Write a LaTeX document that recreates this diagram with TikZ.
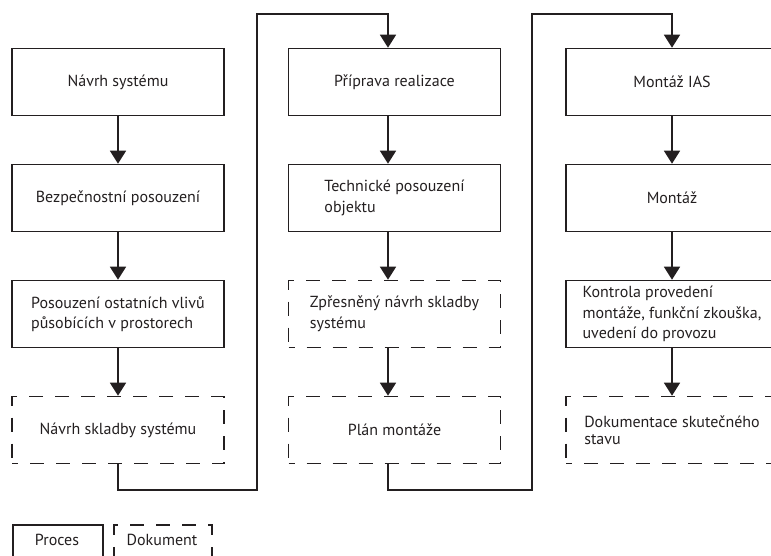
\documentclass[tikz,border=0pt]{standalone}
\usepackage{fontspec}
\setmainfont{PT Sans}
\usetikzlibrary{arrows.meta,calc}
\definecolor{ink}{HTML}{231F20}
\tikzset{
  box/.style={draw=ink, line width=1.6pt, minimum width=212pt, minimum height=67pt, inner sep=0pt, align=left, font=\fontsize{16}{20.5}\selectfont, text=ink},
  proc/.style={box},
  doc/.style={box, dash pattern=on 14pt off 12pt, dash phase=8pt},
  flow/.style={draw=ink, line width=1.6pt, -{Triangle[width=16pt,length=13pt]}},
  legtext/.style={font=\fontsize{16}{19}\selectfont, text=ink},
}
\begin{document}
\begin{tikzpicture}[x=1pt,y=-1pt]
\useasboundingbox (0,0) rectangle (771,555);
\clip (0,0) rectangle (771,555);
% column 1
\node[proc] (a1) at (118,82) {Návrh systému};
\node[proc] (a2) at (118,198) {Bezpečnostní posouzení};
\node[proc] (a3) at (118,314) {Posouzení ostatních vlivů\\působících v prostorech};
\node[doc]  (a4) at (118,430) {Návrh skladby systému};
% column 2
\node[proc] (b1) at (394.5,82) {Příprava realizace};
\node[proc] (b2) at (394.5,198) {Technické posouzení\\objektu};
\node[doc]  (b3) at (394.5,314) {Zpřesněný návrh skladby\\systému};
\node[doc]  (b4) at (394.5,430) {Plán montáže};
% column 3
\node[proc] (c1) at (672,82) {Montáž IAS};
\node[proc] (c2) at (672,198) {Montáž};
\node[proc] (c3) at (672,314) {Kontrola provedení\\montáže, funkční zkouška,\\uvedení do provozu};
\node[doc, font=\fontsize{16}{17}\selectfont] (c4) at (672,430) {Dokumentace skutečného\\stavu};
% legend
\node[proc, minimum width=90pt, minimum height=60pt, anchor=north west] (lp) at (12,524) {};
\node[legtext] (lpt) at (57,540) {Proces};
\node[doc, minimum width=98pt, minimum height=60pt, anchor=north west] (ld) at (113,524) {};
\node[legtext] (ldt) at (162,540) {Dokument};
% arrows
\draw[flow] (a1) -- (a2);
\draw[flow] (a2) -- (a3);
\draw[flow] (a3) -- (a4);
\draw[flow] ([xshift=-6.5pt]b1.south) -- ([xshift=-6.5pt]b2.north);
\draw[flow] ([xshift=-6.5pt]b2.south) -- ([xshift=-6.5pt]b3.north);
\draw[flow] ([xshift=-6.5pt]b3.south) -- ([xshift=-6.5pt]b4.north);
\draw[flow] (c1) -- (c2);
\draw[flow] (c2) -- (c3);
\draw[flow] (c3) -- (c4);
% links between columns
\coordinate (k1) at (257,490);
\coordinate (k2) at (257,14);
\coordinate (k3) at (532,490);
\coordinate (k4) at (532,14);
\draw[flow] (a4.south) |- (k1) -- (k2) -| ([xshift=-6.5pt]b1.north);
\draw[flow] ([xshift=-6.5pt]b4.south) |- (k3) -- (k4) -| (c1.north);
\end{tikzpicture}
\end{document}
